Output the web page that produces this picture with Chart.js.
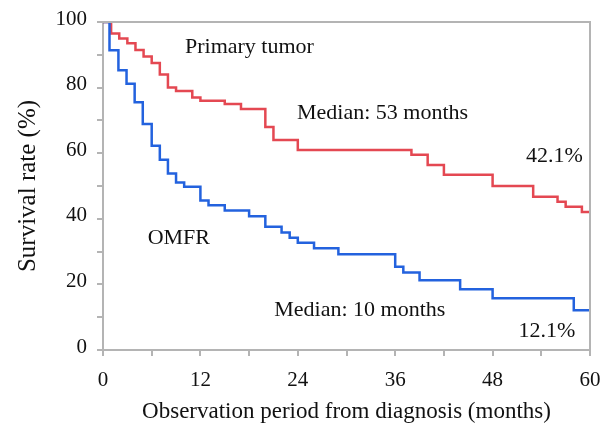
<!DOCTYPE html>
<html>
<head>
<meta charset="utf-8">
<script src="https://cdn.jsdelivr.net/npm/chart.js@4"></script>
<style>
  html, body { margin: 0; padding: 0; background: white; }
  #wrap { width: 602px; height: 435px; }
</style>
</head>
<body>
<div id="wrap"><canvas id="grafico"></canvas></div>
<script>
// ===========================
// DATA
// ===========================

// primary tumor: month of drop, survival after drop (%)
const tumorMeses = [0, 1, 2, 3, 4, 5, 6, 7, 8, 9, 11, 12, 15, 17, 20, 21, 24, 38, 40, 42, 48, 53, 56, 57, 59, 60];
const tumorSobrevida = [100, 96.5, 95, 93.5, 91.5, 89.5, 87.5, 84, 80, 79, 77, 76, 75, 73.5, 68, 64, 61, 59.5, 56.4, 53.4, 50, 46.7, 45.2, 43.7, 42.1, 42.1];

// OMFR
const omfrMeses = [0, 0.8, 1.9, 2.9, 3.9, 4.9, 6, 7, 8, 9, 10, 12, 13, 15, 18, 20, 22, 23, 24, 26, 29, 36, 37, 39, 44, 48, 58, 60];
const omfrSobrevida = [100, 91.4, 85.3, 81.2, 75.5, 68.9, 62.3, 58, 53.8, 51.1, 49.8, 45.6, 44.1, 42.5, 40.8, 37.6, 35.8, 34.2, 32.7, 31, 29.2, 25.4, 23.6, 21.3, 18.5, 15.8, 12.1, 12.1];

const xTicks = [0, 12, 24, 36, 48, 60];
const yTicks = [0, 20, 40, 60, 80, 100];

// text notes: [text, month, percent]
const notas = [
    ["Primary tumor", 10.1, 92.4],
    ["Median: 53 months", 23.9, 72.3],
    ["42.1%", 52.1, 59.1],
    ["OMFR", 5.5, 34.1],
    ["Median: 10 months", 21.1, 12.2],
    ["12.1%", 51.2, 5.8]
];

const FONTE = "'Liberation Serif', 'Times New Roman', serif";
const CINZA = '#b4b4b4';

function pontos(xs, ys){
    return xs.map((x, i) => ({x: x, y: ys[i]}));
}

// ===========================
// PLUGINS
// ===========================

const moldura = {
    id: 'moldura',
    afterDraw(chart){
        const a = chart.chartArea;
        const ctx = chart.ctx;
        ctx.save();
        ctx.strokeStyle = CINZA;
        ctx.lineWidth = 2;
        ctx.beginPath();
        ctx.moveTo(a.left, a.top);
        ctx.lineTo(a.right, a.top);
        ctx.lineTo(a.right, a.bottom);
        ctx.stroke();
        ctx.restore();
    }
};

const textos = {
    id: 'textos',
    afterDatasetsDraw(chart){
        const ctx = chart.ctx;
        const sx = chart.scales.x, sy = chart.scales.y;
        ctx.save();
        ctx.fillStyle = '#111';
        ctx.font = "22px " + FONTE;
        ctx.textAlign = 'left';
        ctx.textBaseline = 'middle';
        notas.forEach(n => {
            ctx.fillText(n[0], sx.getPixelForValue(n[1]), sy.getPixelForValue(n[2]));
        });
        ctx.restore();
    }
};

// ===========================
// CHART
// ===========================

new Chart(document.getElementById("grafico"), {
    type: 'line',
    data: {
        datasets: [
            {
                label: 'OMFR',
                data: pontos(omfrMeses, omfrSobrevida),
                stepped: 'before',
                borderColor: 'rgb(35, 98, 222)',
                borderWidth: 2.5,
                pointRadius: 0,
                fill: false
            },
            {
                label: 'Primary tumor',
                data: pontos(tumorMeses, tumorSobrevida),
                stepped: 'before',
                borderColor: 'rgb(228, 72, 82)',
                borderWidth: 2.5,
                pointRadius: 0,
                fill: false
            }
        ]
    },
    options: {
        responsive: true,
        maintainAspectRatio: false,
        animation: false,
        layout: { padding: { top: 22, right: 12, left: 0, bottom: 0 } },
        plugins: {
            legend: { display: false },
            tooltip: { enabled: false }
        },
        scales: {
            x: {
                type: 'linear',
                min: 0,
                max: 60,
                afterBuildTicks(axis){
                    const t = [];
                    for (let v = 0; v <= 60; v += 6) t.push({value: v});
                    axis.ticks = t;
                },
                afterFit(axis){
                    axis.height = 85;
                    axis.paddingLeft = 0;
                    axis.paddingRight = 0;
                },
                ticks: {
                    color: '#111',
                    font: { family: FONTE, size: 21 },
                    padding: 12,
                    maxRotation: 0,
                    autoSkip: false,
                    callback: v => xTicks.includes(v) ? String(v) : ''
                },
                grid: {
                    drawOnChartArea: false,
                    drawTicks: true,
                    tickLength: 6,
                    color: CINZA,
                    lineWidth: 2
                },
                border: { color: CINZA, width: 2 },
                title: {
                    display: true,
                    text: 'Observation period from diagnosis (months)',
                    color: '#111',
                    font: { family: FONTE, size: 23 },
                    padding: { top: 4, bottom: 9 }
                }
            },
            y: {
                min: 0,
                max: 100,
                afterBuildTicks(axis){
                    const t = [];
                    for (let v = 0; v <= 100; v += 10) t.push({value: v});
                    axis.ticks = t;
                },
                afterFit(axis){
                    axis.width = 103;
                    axis.paddingTop = 0;
                    axis.paddingBottom = 0;
                },
                ticks: {
                    color: '#111',
                    font: { family: FONTE, size: 21 },
                    padding: 10,
                    labelOffset: -3,
                    autoSkip: false,
                    callback: v => yTicks.includes(v) ? String(v) : ''
                },
                grid: {
                    drawOnChartArea: false,
                    drawTicks: true,
                    tickLength: 6,
                    color: CINZA,
                    lineWidth: 2
                },
                border: { color: CINZA, width: 2 },
                title: {
                    display: true,
                    text: 'Survival rate (%)',
                    color: '#111',
                    font: { family: FONTE, size: 25 },
                    padding: { top: 13, bottom: 4 }
                }
            }
        }
    },
    plugins: [moldura, textos]
});
</script>
</body>
</html>
